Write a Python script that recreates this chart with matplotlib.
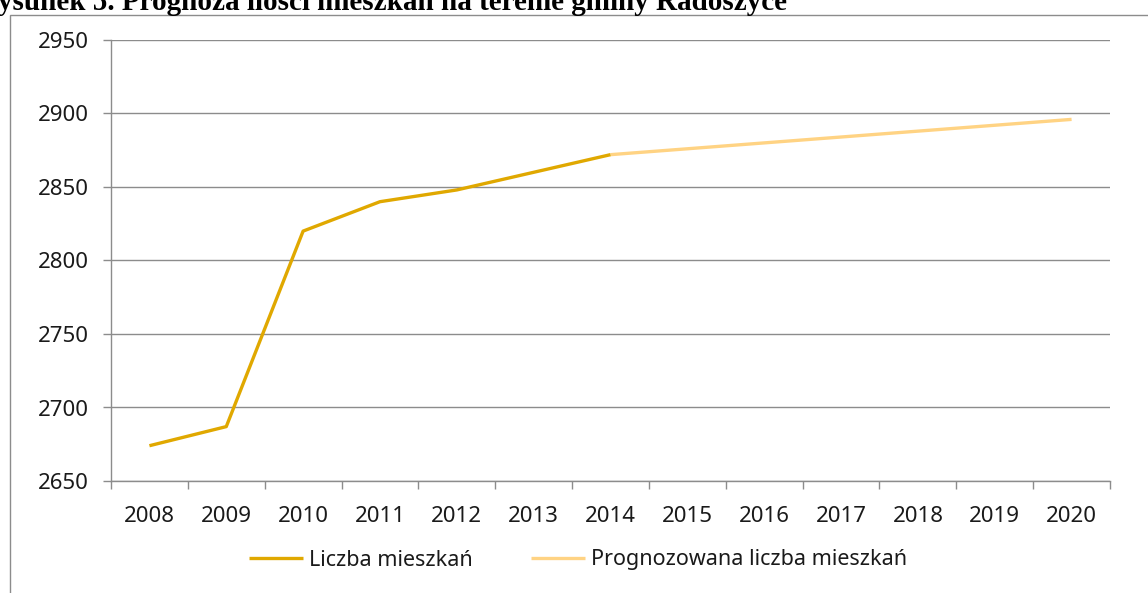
import matplotlib.pyplot as plt
from matplotlib.patches import Rectangle

# dane
lata = ['2008', '2009', '2010', '2011', '2012', '2013', '2014',
        '2015', '2016', '2017', '2018', '2019', '2020']
liczba_mieszkan = [2674, 2687, 2820, 2840, 2848, 2860, 2872]
prognoza = [2872, 2876, 2880, 2884, 2888, 2892, 2896]
y_ticks = [2650, 2700, 2750, 2800, 2850, 2900, 2950]

W, H = 1148, 593
fig = plt.figure(figsize=(W / 100, H / 100), dpi=100)

# ramka wykresu (wychodzi poza obraz)
fig.patches.append(Rectangle((10 / W, -0.1), 1.2, 1 - 15 / H + 0.1,
                             transform=fig.transFigure, fill=False,
                             edgecolor='#8c8c8c', linewidth=1.0))

fig.text(-0.019, 1 - 10 / H, 'Rysunek 5. Prognoza ilości mieszkań na terenie gminy Radoszyce',
         fontfamily='Liberation Serif', fontweight='bold', fontsize=21,
         ha='left', va='baseline')

ax = fig.add_axes([111 / W, 1 - 481 / H, (1110 - 111) / W, (481 - 40) / H])

x_hist = list(range(len(liczba_mieszkan)))
x_prog = list(range(len(liczba_mieszkan) - 1, len(lata)))
ax.plot(x_hist, liczba_mieszkan, color='#E0A800', linewidth=2.4, label='Liczba mieszkań',
        solid_capstyle='butt', zorder=3)
ax.plot(x_prog, prognoza, color='#FFD383', linewidth=2.4, label='Prognozowana liczba mieszkań',
        solid_capstyle='butt', zorder=2)

ax.set_xlim(-0.5, len(lata) - 0.5)
ax.set_ylim(2650, 2950)
ax.set_yticks(y_ticks)
ax.set_xticks(range(len(lata)))
ax.set_xticklabels(lata)
ax.set_xticks([i - 0.5 for i in range(len(lata) + 1)], minor=True)

grid_c = '#8c8c8c'
ax.grid(axis='y', color=grid_c, linewidth=1.0)
ax.set_axisbelow(True)
for s in ['top', 'right']:
    ax.spines[s].set_visible(False)
for s in ['left', 'bottom']:
    ax.spines[s].set_color(grid_c)
    ax.spines[s].set_linewidth(1.0)

ax.tick_params(axis='x', which='major', length=0, pad=18)
ax.tick_params(axis='x', which='minor', length=6, color=grid_c, width=1.0)
ax.tick_params(axis='y', length=6, color=grid_c, width=1.0, pad=10)
for lab in ax.get_xticklabels() + ax.get_yticklabels():
    lab.set_fontfamily('Noto Sans')
    lab.set_fontsize(16)
    lab.set_color('#1a1a1a')

leg = fig.legend(loc='center', bbox_to_anchor=(578 / W, 1 - 560 / H), ncol=2,
                 frameon=False, prop={'family': 'Noto Sans', 'size': 15.5},
                 handlelength=2.5, handletextpad=0.3, columnspacing=2.7)
for t in leg.get_texts():
    t.set_color('#1a1a1a')

fig.savefig('out.png', dpi=100)
